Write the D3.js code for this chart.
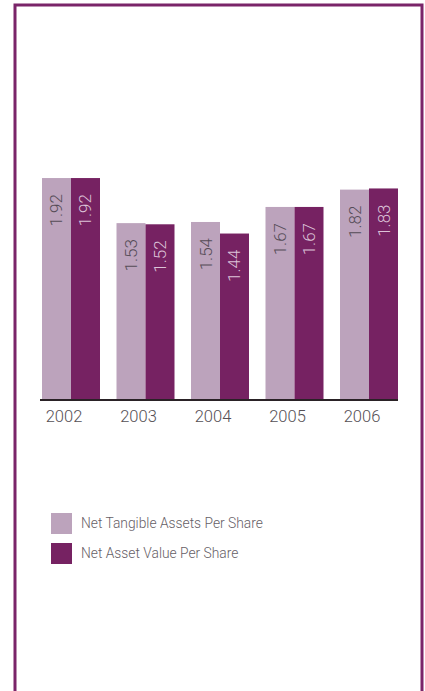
<!DOCTYPE html>
<html>
<head>
<meta charset="utf-8">
<script src="https://cdn.jsdelivr.net/npm/d3@7"></script>
<style>
  html, body { margin: 0; padding: 0; background: #ffffff; }
  svg { display: block; }
  text { font-family: Roboto, "Liberation Sans", Arial, sans-serif; font-weight: 300; }
</style>
</head>
<body>
<svg id="chart" width="425" height="691"></svg>
<script>
// Per-share figures by year
const years = ["2002", "2003", "2004", "2005", "2006"];
const netTangibleAssets = [1.92, 1.53, 1.54, 1.67, 1.82];
const netAssetValue = [1.92, 1.52, 1.44, 1.67, 1.83];
const seriesNames = ["Net Tangible Assets Per Share", "Net Asset Value Per Share"];
const seriesColors = ["#bca3bc", "#762262"];
const labelColors = ["#554c57", "#dcc3d8"];

const svg = d3.select("#chart");

// Frame
svg.append("rect")
  .attr("x", 15).attr("y", 5)
  .attr("width", 407).attr("height", 720)
  .attr("fill", "none")
  .attr("stroke", "#7a2569")
  .attr("stroke-width", 3);

const baseline = 400;
const x0 = d3.scaleBand().domain(years).range([42, 398]).paddingInner(0.2215).paddingOuter(0);
const x1 = d3.scaleBand().domain([0, 1]).range([0, x0.bandwidth()]);
const y = d3.scaleLinear().domain([0, 2]).range([baseline, baseline - 231.2]);

const rows = years.map((yr, i) => ({ year: yr, values: [netTangibleAssets[i], netAssetValue[i]] }));

const groups = svg.append("g").selectAll("g")
  .data(rows)
  .join("g")
  .attr("transform", d => `translate(${x0(d.year)},0)`);

groups.selectAll("rect")
  .data(d => d.values.map((v, k) => ({ v, k })))
  .join("rect")
  .attr("x", d => x1(d.k))
  .attr("y", d => y(d.v))
  .attr("width", x1.bandwidth())
  .attr("height", d => baseline - y(d.v))
  .attr("fill", d => seriesColors[d.k]);

// Rotated value labels inside each bar
groups.selectAll("text.value")
  .data(d => d.values.map((v, k) => ({ v, k })))
  .join("text")
  .attr("class", "value")
  .attr("transform", d => `translate(${x1(d.k) + x1.bandwidth() / 2 + 6},${y(d.v) + 16}) rotate(-90)`)
  .attr("text-anchor", "end")
  .attr("font-size", 17)
  .attr("fill", d => labelColors[d.k])
  .text(d => d.v.toFixed(2));

// Category axis
const xAxis = svg.append("g");
xAxis.append("line")
  .attr("x1", 40).attr("x2", 398)
  .attr("y1", baseline).attr("y2", baseline)
  .attr("stroke", "#2a2226")
  .attr("stroke-width", 2);

xAxis.selectAll("text")
  .data(years)
  .join("text")
  .attr("x", d => x0(d) + x0.bandwidth() / 2 - 7)
  .attr("y", 422)
  .attr("text-anchor", "middle")
  .attr("font-size", 16.5)
  .attr("fill", "#555055")
  .text(d => d);

// Legend
const legend = svg.append("g").selectAll("g")
  .data(seriesNames)
  .join("g")
  .attr("transform", (d, i) => `translate(51,${513 + i * 30})`);

legend.append("rect")
  .attr("width", 21).attr("height", 21)
  .attr("fill", (d, i) => seriesColors[i]);

legend.append("text")
  .attr("x", 30).attr("y", 14.5)
  .attr("font-size", 13.8)
  .attr("fill", "#666066")
  .text(d => d);
</script>
</body>
</html>
